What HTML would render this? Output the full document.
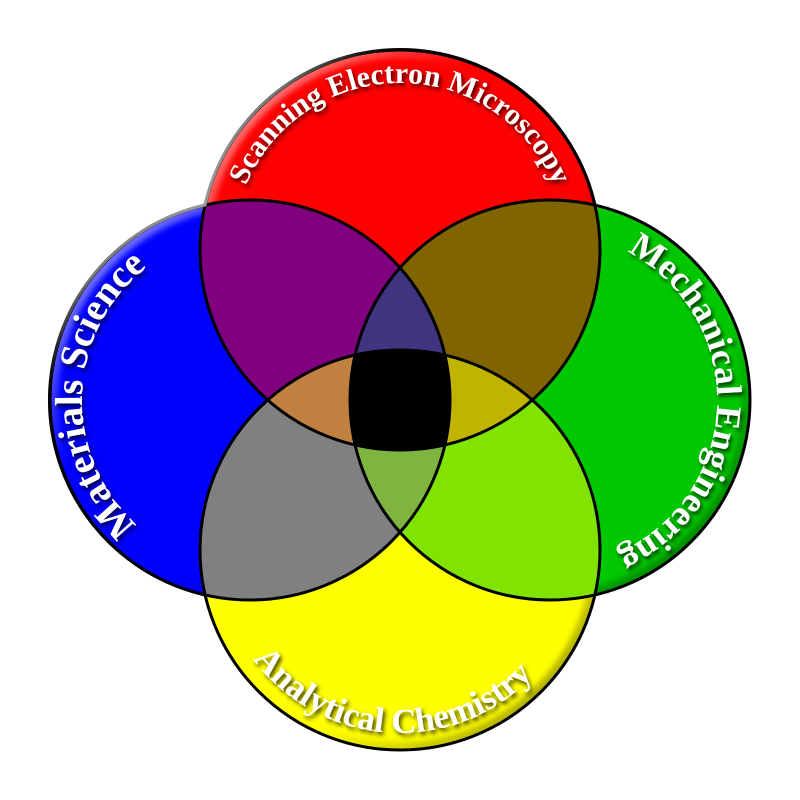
<!DOCTYPE html>
<html>
<head>
<meta charset="utf-8">
<style>
  html, body { margin: 0; padding: 0; background: #ffffff; }
  svg { display: block; }
  text { font-family: "Liberation Serif", serif; font-weight: bold; fill: #ffffff; }
</style>
</head>
<body>
<svg width="800" height="800" viewBox="0 0 800 800" xmlns="http://www.w3.org/2000/svg">
  <defs>
    <clipPath id="cR"><circle cx="400" cy="250" r="200"/></clipPath>
    <clipPath id="cB"><circle cx="250" cy="400" r="200"/></clipPath>
    <clipPath id="cG"><circle cx="550" cy="400" r="200"/></clipPath>
    <clipPath id="cY"><circle cx="400" cy="550" r="200"/></clipPath>

    <linearGradient id="bev" x1="0" y1="0" x2="1" y2="1">
      <stop offset="0" stop-color="#ffffff" stop-opacity="0.75"/>
      <stop offset="0.35" stop-color="#ffffff" stop-opacity="0"/>
      <stop offset="0.62" stop-color="#000000" stop-opacity="0"/>
      <stop offset="1" stop-color="#000000" stop-opacity="0.5"/>
    </linearGradient>
    <filter id="blur" x="-10%" y="-10%" width="120%" height="120%">
      <feGaussianBlur stdDeviation="3"/>
    </filter>

    <radialGradient id="edge" gradientUnits="userSpaceOnUse" cx="205" cy="205" r="240">
      <stop offset="0" stop-color="#9a9a9a"/>
      <stop offset="0.55" stop-color="#7a7a7a"/>
      <stop offset="1" stop-color="#000000"/>
    </radialGradient>

    <filter id="shadow" x="-20%" y="-20%" width="140%" height="140%">
      <feGaussianBlur in="SourceAlpha" stdDeviation="2"/>
      <feOffset dx="2" dy="3" result="ob"/>
      <feFlood flood-color="#000000" flood-opacity="0.75"/>
      <feComposite in2="ob" operator="in" result="sh"/>
      <feMerge>
        <feMergeNode in="sh"/>
        <feMergeNode in="SourceGraphic"/>
      </feMerge>
    </filter>

    <path id="pR" d="M 400,417 A 167 167 0 1 1 400,83 A 167 167 0 1 1 400,417"/>
    <path id="pB" d="M 250,568 A 168 168 0 1 1 250,232 A 168 168 0 1 1 250,568"/>
    <path id="pG" d="M 550,233 A 167 167 0 1 1 550,567 A 167 167 0 1 1 550,233"/>
    <path id="pY" d="M 217,550 A 183 183 0 0 0 583,550"/>
  </defs>

  <!-- base circles -->
  <circle cx="400" cy="250" r="200" fill="#ff0000"/>
  <circle cx="250" cy="400" r="200" fill="#0000ff"/>
  <circle cx="550" cy="400" r="200" fill="#00c800"/>
  <circle cx="400" cy="550" r="200" fill="#ffff00"/>

  <!-- bevels -->
  <g clip-path="url(#cR)"><circle cx="400" cy="250" r="200" fill="none" stroke="url(#bev)" stroke-width="16" filter="url(#blur)"/></g>
  <g clip-path="url(#cB)"><circle cx="250" cy="400" r="200" fill="none" stroke="url(#bev)" stroke-width="16" filter="url(#blur)"/></g>
  <g clip-path="url(#cG)"><circle cx="550" cy="400" r="200" fill="none" stroke="url(#bev)" stroke-width="16" filter="url(#blur)"/></g>
  <g clip-path="url(#cY)"><circle cx="400" cy="550" r="200" fill="none" stroke="url(#bev)" stroke-width="16" filter="url(#blur)"/></g>

  <!-- pairwise intersections -->
  <g clip-path="url(#cR)"><circle cx="250" cy="400" r="200" fill="#800080"/></g>
  <g clip-path="url(#cR)"><circle cx="550" cy="400" r="200" fill="#806400"/></g>
  <g clip-path="url(#cB)"><circle cx="400" cy="550" r="200" fill="#808080"/></g>
  <g clip-path="url(#cG)"><circle cx="400" cy="550" r="200" fill="#80e400"/></g>

  <!-- triple intersections -->
  <g clip-path="url(#cR)"><g clip-path="url(#cB)"><circle cx="550" cy="400" r="200" fill="#403480"/></g></g>
  <g clip-path="url(#cR)"><g clip-path="url(#cB)"><circle cx="400" cy="550" r="200" fill="#c08040"/></g></g>
  <g clip-path="url(#cR)"><g clip-path="url(#cG)"><circle cx="400" cy="550" r="200" fill="#c0b400"/></g></g>
  <g clip-path="url(#cB)"><g clip-path="url(#cG)"><circle cx="400" cy="550" r="200" fill="#80b440"/></g></g>

  <!-- quad -->
  <g clip-path="url(#cR)"><g clip-path="url(#cB)"><g clip-path="url(#cG)"><circle cx="400" cy="550" r="200" fill="#000000"/></g></g></g>

  <!-- outlines -->
  <g fill="none" stroke="#000000" stroke-width="3">
    <circle cx="400" cy="250" r="200"/>
    <circle cx="250" cy="400" r="200"/>
    <circle cx="550" cy="400" r="200"/>
    <circle cx="400" cy="550" r="200"/>
  </g>
  <path d="M 205,595 A 200 200 0 0 1 205,205 A 200 200 0 0 1 595,205" fill="none" stroke="url(#edge)" stroke-width="3"/>

  <!-- labels -->
  <g filter="url(#shadow)">
    <text font-size="30"><textPath href="#pR" startOffset="50%" text-anchor="middle">Scanning Electron Microscopy</textPath></text>
    <text font-size="39"><textPath href="#pB" startOffset="25.6%" text-anchor="middle">Materials Science</textPath></text>
    <text font-size="36"><textPath href="#pG" startOffset="25.5%" text-anchor="middle">Mechanical Engineering</textPath></text>
    <text font-size="35"><textPath href="#pY" startOffset="48.1%" text-anchor="middle">Analytical Chemistry</textPath></text>
  </g>
</svg>
</body>
</html>
